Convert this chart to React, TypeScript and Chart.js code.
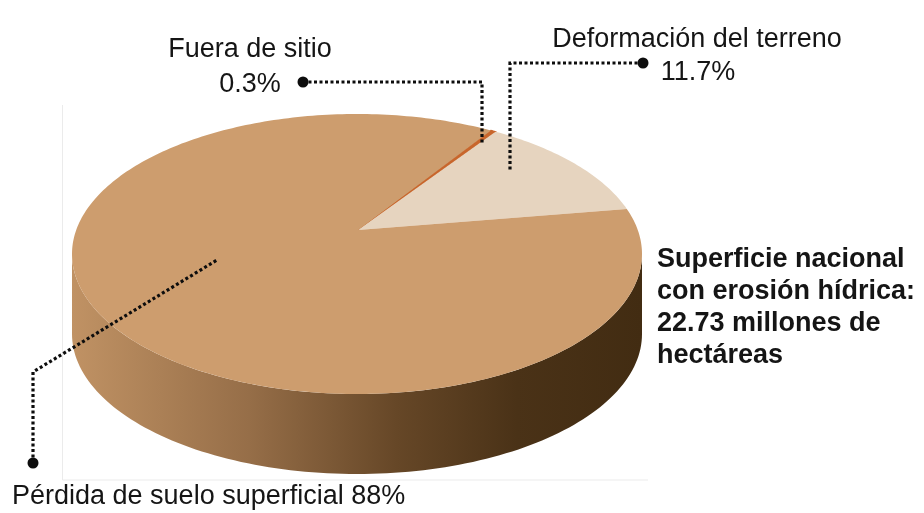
import React, { useEffect, useRef } from "react";
import { Chart, registerables } from "chart.js";

Chart.register(...registerables);

// ---- data ----
const categories = ["Fuera de sitio", "Deformación del terreno", "Pérdida de suelo superficial"];
const values = [0.3, 11.7, 88];
const valueLabels = ["0.3%", "11.7%", "88%"];
const topColors = ["#C8662C", "#E6D4BF", "#CD9D6E"];
const totalLines = ["Superficie nacional", "con erosión hídrica:", "22.73 millones de", "hectáreas"];

// ---- geometry / style (not data) ----
const GEO = { cx: 357, cy: 254, rx: 285, ry: 140, depth: 80, tipX: 358, tipY: 230 };
const FONT = '"Liberation Sans", Arial, Helvetica, sans-serif';

function ptTop(a: number) {
  return { x: GEO.cx + GEO.rx * Math.cos(a), y: GEO.cy + GEO.ry * Math.sin(a) };
}

const pie3d = {
  id: "pie3d",
  beforeDatasetsDraw(chart: any) {
    const ctx: CanvasRenderingContext2D = chart.ctx;
    const arcs: any[] = chart.getDatasetMeta(0).data;
    ctx.save();

    // faint frame artefacts of the original picture
    ctx.strokeStyle = "#EBEBEB";
    ctx.lineWidth = 1;
    ctx.beginPath();
    ctx.moveTo(62.5, 105);
    ctx.lineTo(62.5, 480);
    ctx.lineTo(648, 480);
    ctx.stroke();

    // side wall (front half only)
    const grad = ctx.createLinearGradient(GEO.cx - GEO.rx, 0, GEO.cx + GEO.rx, 0);
    grad.addColorStop(0, "rgb(192,146,100)");
    grad.addColorStop(0.31, "rgb(150,110,72)");
    grad.addColorStop(0.57, "rgb(102,71,39)");
    grad.addColorStop(0.78, "rgb(74,50,23)");
    grad.addColorStop(1, "rgb(66,44,18)");
    arcs.forEach((arc) => {
      const s = arc.startAngle;
      const e = arc.endAngle;
      for (let k = -1; k <= 1; k++) {
        const a0 = Math.max(s + k * 2 * Math.PI, 0);
        const a1 = Math.min(e + k * 2 * Math.PI, Math.PI);
        if (a1 <= a0) continue;
        ctx.beginPath();
        const n = 120;
        for (let i = 0; i <= n; i++) {
          const a = a0 + ((a1 - a0) * i) / n;
          const p = ptTop(a);
          if (i === 0) ctx.moveTo(p.x, p.y);
          else ctx.lineTo(p.x, p.y);
        }
        for (let i = n; i >= 0; i--) {
          const a = a0 + ((a1 - a0) * i) / n;
          const p = ptTop(a);
          ctx.lineTo(p.x, p.y + GEO.depth);
        }
        ctx.closePath();
        ctx.fillStyle = grad;
        ctx.fill();
      }
    });

    // top face
    arcs.forEach((arc, i) => {
      const s = arc.startAngle;
      const e = arc.endAngle;
      ctx.beginPath();
      ctx.moveTo(GEO.tipX, GEO.tipY);
      const n = Math.max(4, Math.ceil(((e - s) / (2 * Math.PI)) * 360));
      for (let j = 0; j <= n; j++) {
        const p = ptTop(s + ((e - s) * j) / n);
        ctx.lineTo(p.x, p.y);
      }
      ctx.closePath();
      ctx.fillStyle = topColors[i];
      ctx.fill();
      if (i === 0) {
        ctx.strokeStyle = topColors[i];
        ctx.lineWidth = 1.2;
        ctx.stroke();
      }
    });

    ctx.restore();
    return false;
  },
  afterDraw(chart: any) {
    const ctx: CanvasRenderingContext2D = chart.ctx;
    ctx.save();

    const leader = (pts: number[][]) => {
      ctx.strokeStyle = "#0d0d0d";
      ctx.lineWidth = 3.2;
      ctx.setLineDash([3, 2.5]);
      ctx.beginPath();
      pts.forEach((p, i) => (i === 0 ? ctx.moveTo(p[0], p[1]) : ctx.lineTo(p[0], p[1])));
      ctx.stroke();
      ctx.setLineDash([]);
      ctx.fillStyle = "#0d0d0d";
      ctx.beginPath();
      ctx.arc(pts[0][0], pts[0][1], 5.5, 0, Math.PI * 2);
      ctx.fill();
    };

    leader([[303, 82], [482, 82], [482, 143]]);
    leader([[643, 63], [510, 63], [510, 172]]);
    leader([[33, 463], [33, 372], [217, 260]]);

    ctx.fillStyle = "#151515";
    ctx.font = "27px " + FONT;
    ctx.textBaseline = "alphabetic";
    ctx.textAlign = "center";
    ctx.fillText(categories[0], 250, 57);
    ctx.fillText(valueLabels[0], 250, 92);
    ctx.fillText(categories[1], 697, 47);
    ctx.fillText(valueLabels[1], 698, 80);
    ctx.textAlign = "left";
    ctx.fillText(categories[2] + " " + valueLabels[2], 12, 504);

    ctx.font = "bold 27px " + FONT;
    const base = [267, 299, 331, 363];
    totalLines.forEach((t, i) => ctx.fillText(t, 657, base[i]));

    ctx.restore();
  },
};

export default function App() {
  const ref = useRef<HTMLCanvasElement | null>(null);
  useEffect(() => {
    if (!ref.current) return;
    const chart = new Chart(ref.current, {
      type: "pie",
      data: {
        labels: categories,
        datasets: [{ data: values, backgroundColor: topColors, borderWidth: 0 }],
      },
      options: {
        responsive: false,
        animation: false,
        rotation: 28,
        plugins: { legend: { display: false }, tooltip: { enabled: false } },
      },
      plugins: [pie3d],
    } as any);
    return () => chart.destroy();
  }, []);
  return (
    <div style={{ position: "absolute", left: 0, top: 0, width: 924, height: 513, background: "#fff" }}>
      <canvas ref={ref} width={924} height={513} style={{ display: "block" }} />
    </div>
  );
}
